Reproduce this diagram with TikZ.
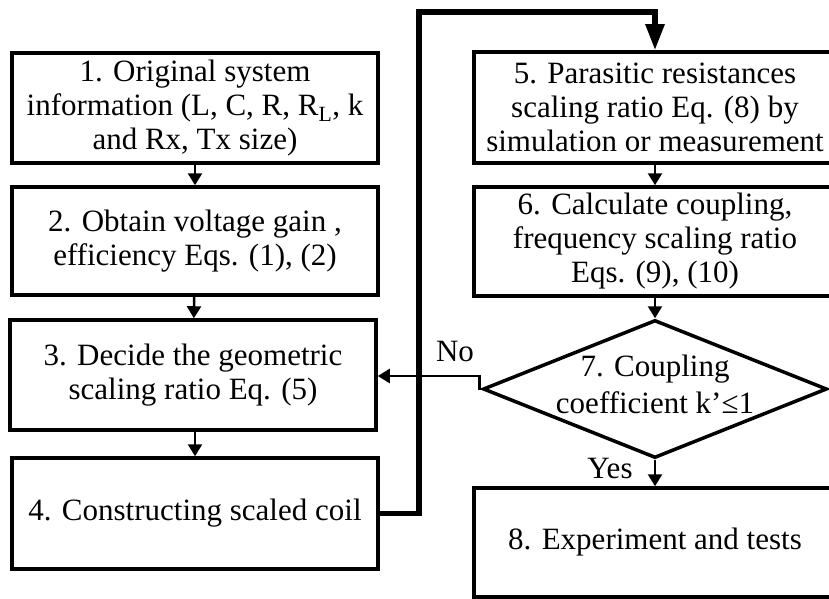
\documentclass[tikz,border=0pt]{standalone}
\usepackage{fontspec}
\setmainfont{Liberation Serif}
\usetikzlibrary{shapes.geometric,arrows.meta}

\begin{document}
\begin{tikzpicture}[x=1pt,y=-1pt,
  box/.style={draw,line width=3.5pt,minimum width=366pt,minimum height=110pt,
    inner sep=0pt,align=center,font=\fontsize{31}{34}\selectfont},
  rbox/.style={box,minimum width=362pt},
  arr/.style={line width=2.5pt,-{Triangle[length=12pt,width=14pt]}},
  bigarr/.style={line width=5.5pt,-{Triangle[length=26pt,width=18pt]}}]
\useasboundingbox (0,0) rectangle (829,599);
% left column
\node[box] (b1) at (195,108) {1. Original system\\information (L, C, R, R\textsubscript{L}, k\\and Rx, Tx size)};
\node[box,minimum height=108pt] (b2) at (195,241) {2. Obtain voltage gain ,\\efficiency Eqs. (1), (2)};
\node[box] (b3) at (193,375) {3. Decide the geometric\\scaling ratio Eq. (5)};
\node[box,minimum height=111pt] (b4) at (195,513.5) {4. Constructing scaled coil};
% right column
\node[rbox,minimum height=111pt] (b5) at (655,107.5) {5. Parasitic resistances\\scaling ratio Eq. (8) by\\simulation or measurement};
\node[rbox,minimum height=109pt] (b6) at (655,241.5) {6. Calculate coupling,\\frequency scaling ratio\\Eqs. (9), (10)};
\node[draw,diamond,line width=3.5pt,inner sep=0pt,minimum width=344pt,minimum height=138pt] (d7) at (655,389) {};
\node[align=center,font=\fontsize{31}{37}\selectfont] (d7t) at (655,384) {7. Coupling\\coefficient k’≤1};
\node[rbox,minimum height=109pt] (b8) at (655,542.5) {8. Experiment and tests};
% connectors
\draw[arr] (b1) -- (b2);
\draw[arr] (b2) -- (b3);
\draw[arr] (b3.south -| b4) -- (b4);
\draw[arr] (b5) -- (b6);
\draw[arr] (b6) -- (d7.north);
\draw[arr] (d7.south) -- (b8.north -| d7.south);
\draw[arr] (d7.west) -- ++(-2,0) -- ++(0,-13) coordinate (nobend) -- (nobend -| b3.east);
\draw[bigarr] (b4.east) -- ++(39,0) coordinate (t1) -- (t1 |- 0,12) -- (b5.north |- 0,12) -- (b5.north);
\node[font=\fontsize{31}{34}\selectfont] (no) at (455,351) {No};
\node[font=\fontsize{31}{34}\selectfont] (yes) at (610,468) {Yes};
\end{tikzpicture}
\end{document}
